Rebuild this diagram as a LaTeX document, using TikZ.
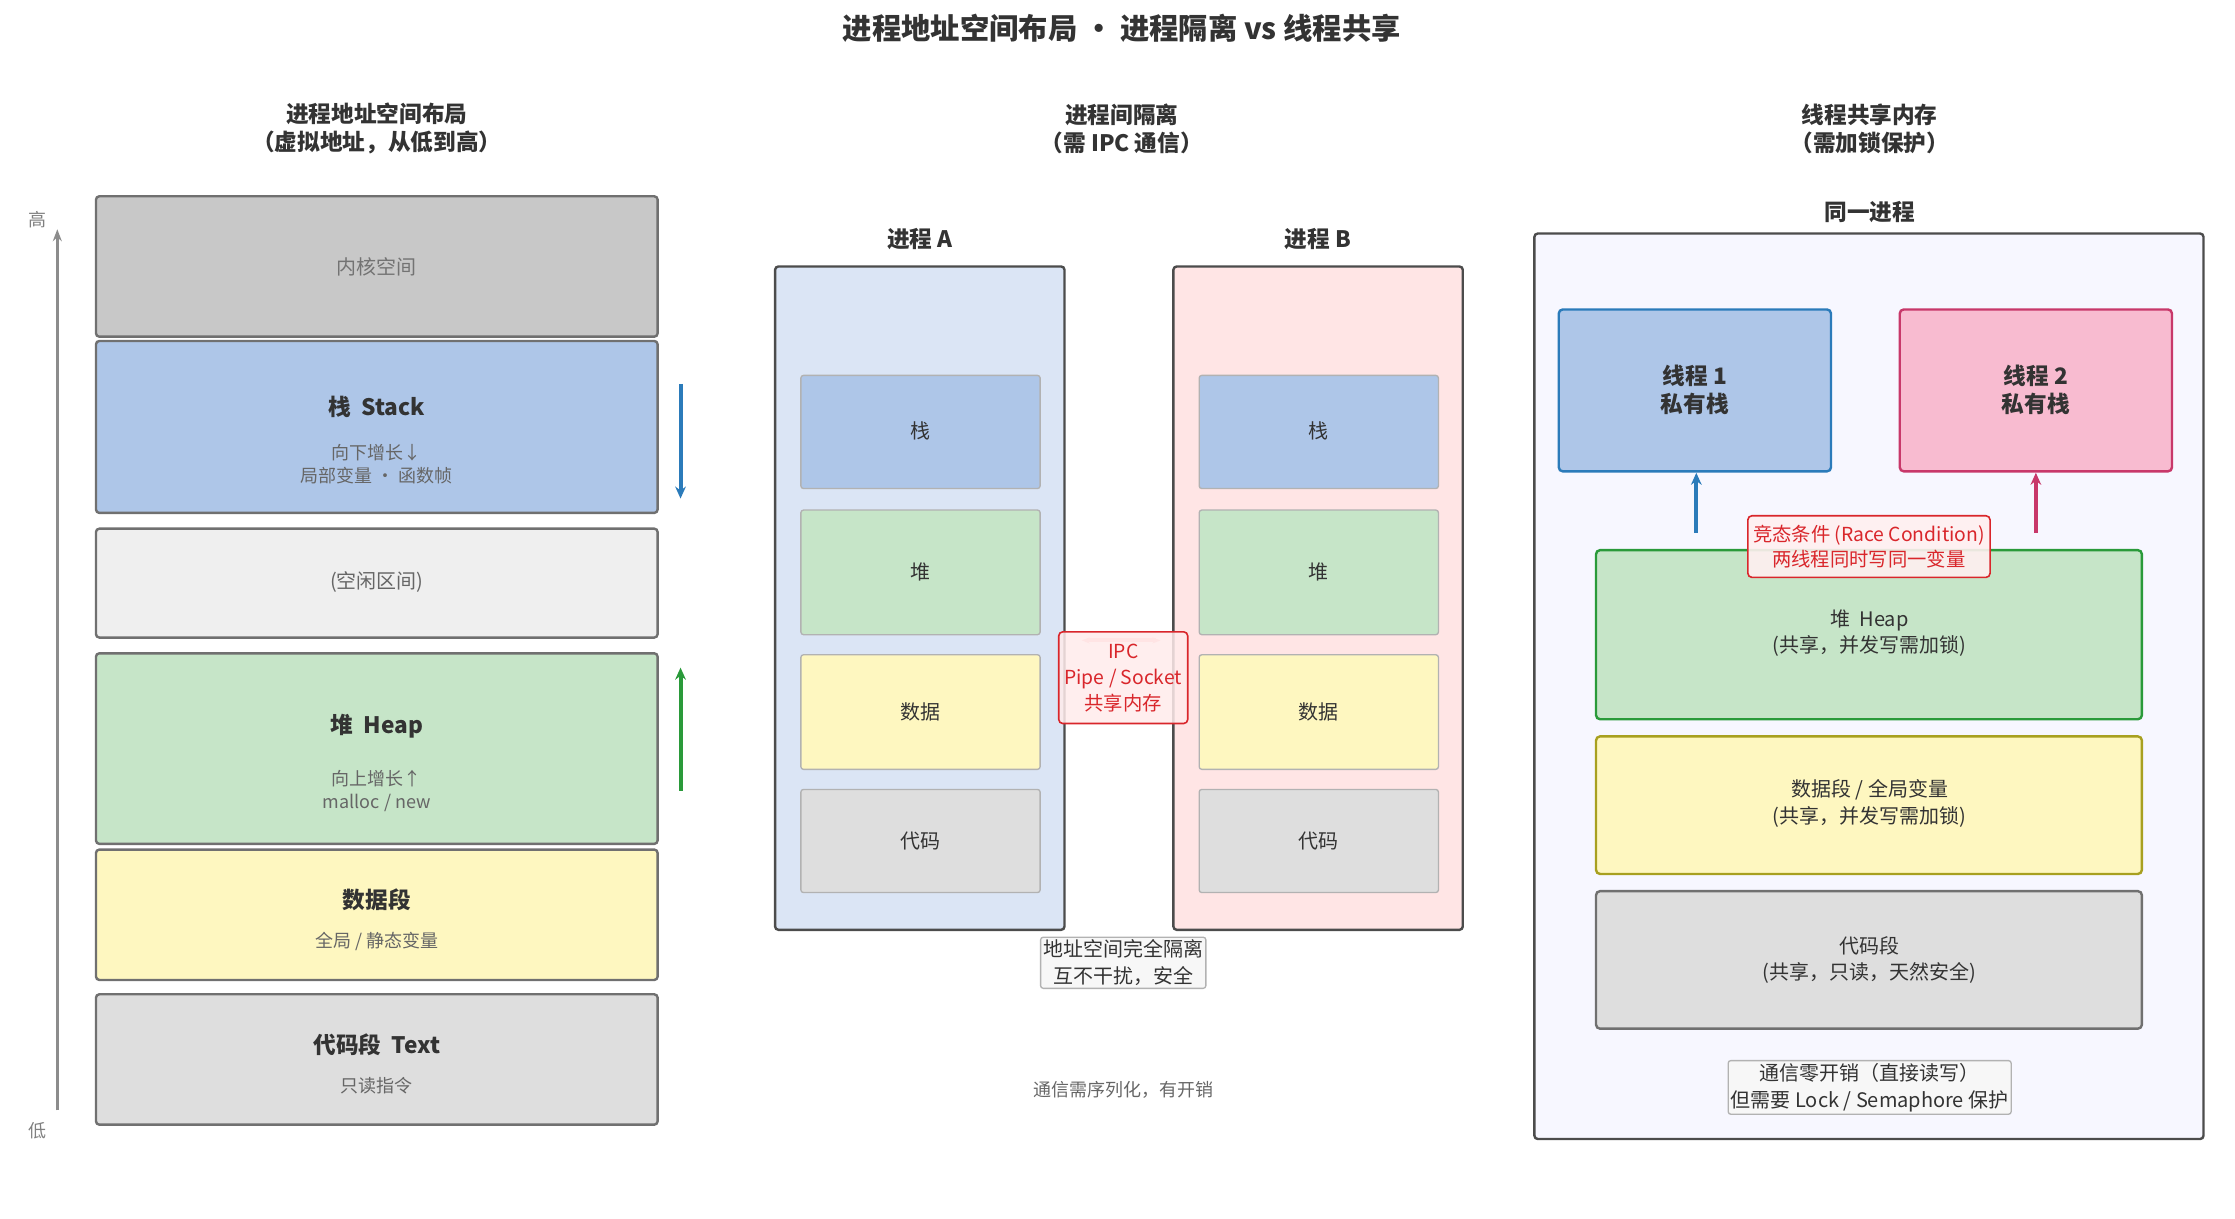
\documentclass[tikz,border=0pt]{standalone}
\usepackage{fontspec}
\setmainfont{Noto Sans CJK SC}
\usetikzlibrary{arrows.meta}
\definecolor{txt}{HTML}{333333}
\definecolor{bd}{HTML}{707070}
\definecolor{cstack}{HTML}{AEC6E8}
\definecolor{cheap}{HTML}{C6E5C8}
\definecolor{cdata}{HTML}{FEF7C0}
\definecolor{ccode}{HTML}{DEDEDE}
\definecolor{ckern}{HTML}{C8C8C8}
\definecolor{cfree}{HTML}{EFEFEF}
\definecolor{cred}{HTML}{D9262B}
\definecolor{cblue}{HTML}{2B7BBA}
\definecolor{cpink}{HTML}{C8386A}
\definecolor{cpinkf}{HTML}{F8BBD0}
\definecolor{cgreen}{HTML}{2A9A3A}
\definecolor{colive}{HTML}{A8A020}
\tikzset{
 x=1.075pt,y=-1.075pt,
 blk/.style={draw=bd,line width=1.8pt,rounded corners=2.5pt},
 inner/.style={draw=black!30,line width=1pt,rounded corners=2pt},
 hd/.style={font=\bfseries\fontsize{17}{21}\selectfont,text=txt,align=center},
 lbl/.style={font=\fontsize{15}{20}\selectfont,text=txt,align=center},
 sm/.style={font=\fontsize{13.5}{17.5}\selectfont,text=black!60,align=center},
 arr/.style={line width=3pt,-{Stealth[length=9pt,width=8pt]}},
}
\begin{document}
\begin{tikzpicture}
\useasboundingbox (0,0) rectangle (1560,850.7);
\node[font=\bfseries\fontsize{22}{26}\selectfont,text=txt] (title) at (783,20) {进程地址空间布局 • 进程隔离 vs 线程共享};
% left
\node[hd] (hl) at (263,90) {进程地址空间布局\\（虚拟地址，从低到高）};
\coordinate (alo) at (40,775); \coordinate (ahi) at (40,160);
\draw[line width=2pt,black!45,-{Stealth[length=9pt]}] (alo) -- (ahi);
\node[sm,text=black!50] (hi) at (26,153) {高};
\node[sm,text=black!50] (lo) at (26,789) {低};
\draw[blk,fill=ckern] (67,137) rectangle (459,235);
\node[lbl,text=black!55] (k) at (263,186) {内核空间};
\draw[blk,fill=cstack] (67,238) rectangle (459,358);
\node[hd] (st) at (263,284) {栈\ \ Stack};
\node[sm] (st2) at (263,324) {向下增长↓\\局部变量 · 函数帧};
\draw[blk,fill=cfree] (67,369) rectangle (459,445);
\node[lbl,text=black!60] (fr) at (263,406) {(空闲区间)};
\draw[blk,fill=cheap] (67,456) rectangle (459,589);
\node[hd] (hp) at (263,507) {堆\ \ Heap};
\node[sm] (hp2) at (263,552) {向上增长↑\\malloc / new};
\draw[blk,fill=cdata] (67,593) rectangle (459,684);
\node[hd] (ds) at (263,628) {数据段};
\node[sm] (ds2) at (263,657) {全局 / 静态变量};
\draw[blk,fill=ccode] (67,694) rectangle (459,785);
\node[hd] (cs) at (263,729) {代码段\ \ Text};
\node[sm] (cs2) at (263,758) {只读指令};
\coordinate (sa) at (475,268); \coordinate (sb) at (475,348);
\draw[arr,cblue] (sa) -- (sb);
\coordinate (ha) at (475,552); \coordinate (hb) at (475,466);
\draw[arr,cgreen] (ha) -- (hb);
% middle
\node[hd] (hm) at (783,90) {进程间隔离\\（需 IPC 通信）};
\node[hd] (pa) at (642,167) {进程 A};
\node[hd] (pb) at (920,167) {进程 B};
\draw[blk,draw=black!70,fill=cstack!45] (541,186) rectangle (743,649);
\draw[blk,draw=black!70,fill=red!10] (819,186) rectangle (1021,649);
\foreach \x/\n in {559/a,837/b}{
 \draw[inner,fill=cstack] (\x,262) rectangle +(167,79);
 \node[lbl] (stk\n) at (\x+83.5,301) {栈};
 \draw[inner,fill=cheap] (\x,356) rectangle +(167,87);
 \node[lbl] (hep\n) at (\x+83.5,399) {堆};
 \draw[inner,fill=cdata] (\x,457) rectangle +(167,80);
 \node[lbl] (dat\n) at (\x+83.5,497) {数据};
 \draw[inner,fill=ccode] (\x,551) rectangle +(167,72);
 \node[lbl] (cod\n) at (\x+83.5,587) {代码};
}
\draw[line width=3pt,red!25,{Stealth[length=6pt]}-{Stealth[length=6pt]}] (755,447) -- (810,447);
\node[draw=cred,line width=1.2pt,fill=red!8,fill opacity=0.85,text opacity=1,rounded corners=3pt,minimum width=96.75pt,minimum height=68.8pt,inner sep=1pt,font=\fontsize{14.5}{19.5}\selectfont,text=cred,align=center] (ipc) at (784,473) {IPC\\Pipe / Socket\\共享内存};
\node[draw=black!30,line width=1pt,fill=black!3,rounded corners=2pt,lbl,inner sep=2pt] (n1) at (784,672) {地址空间完全隔离\\互不干扰，安全};
\node[sm] (n2) at (784,761) {通信需序列化，有开销};
% right
\node[hd] (hr) at (1305,90) {线程共享内存\\（需加锁保护）};
\node[hd] (same) at (1305,148) {同一进程};
\draw[blk,draw=black!70,fill=blue!3!white] (1071,163) rectangle (1538,795);
\draw[line width=1.8pt,rounded corners=3pt,draw=cblue,fill=cstack] (1088,216) rectangle (1278,329);
\node[hd] (t1) at (1183,272) {线程 1\\私有栈};
\draw[line width=1.8pt,rounded corners=3pt,draw=cpink,fill=cpinkf] (1326,216) rectangle (1516,329);
\node[hd] (t2) at (1421,272) {线程 2\\私有栈};
\draw[line width=1.8pt,rounded corners=3pt,draw=cgreen,fill=cheap] (1114,384) rectangle (1495,502);
\node[lbl] (rh) at (1305,442) {堆\ \ Heap\\(共享，并发写需加锁)};
\draw[line width=1.8pt,rounded corners=3pt,draw=colive,fill=cdata] (1114,514) rectangle (1495,610);
\node[lbl] (rd) at (1305,561) {数据段 / 全局变量\\(共享，并发写需加锁)};
\draw[line width=1.8pt,rounded corners=3pt,draw=bd,fill=ccode] (1114,622) rectangle (1495,718);
\node[lbl] (rc) at (1305,670) {代码段\\(共享，只读，天然安全)};
\coordinate (b1) at (1184,372); \coordinate (b2) at (1421,372);
\draw[arr,cblue] (b1) -- (1184,330);
\draw[arr,cpink] (b2) -- (1421,330);
\node[draw=cred,line width=1.2pt,fill=red!6,fill opacity=0.9,text opacity=1,rounded corners=3pt,minimum width=181.7pt,minimum height=46.2pt,font=\fontsize{14.5}{19}\selectfont,text=cred,align=center,inner sep=1pt] (race) at (1304.5,381.5) {竞态条件 (Race Condition)\\两线程同时写同一变量};
\node[draw=black!30,line width=1pt,fill=black!3,rounded corners=2pt,lbl,inner sep=2pt] (n3) at (1305,759) {通信零开销（直接读写）\\但需要 Lock / Semaphore 保护};
\end{tikzpicture}
\end{document}
